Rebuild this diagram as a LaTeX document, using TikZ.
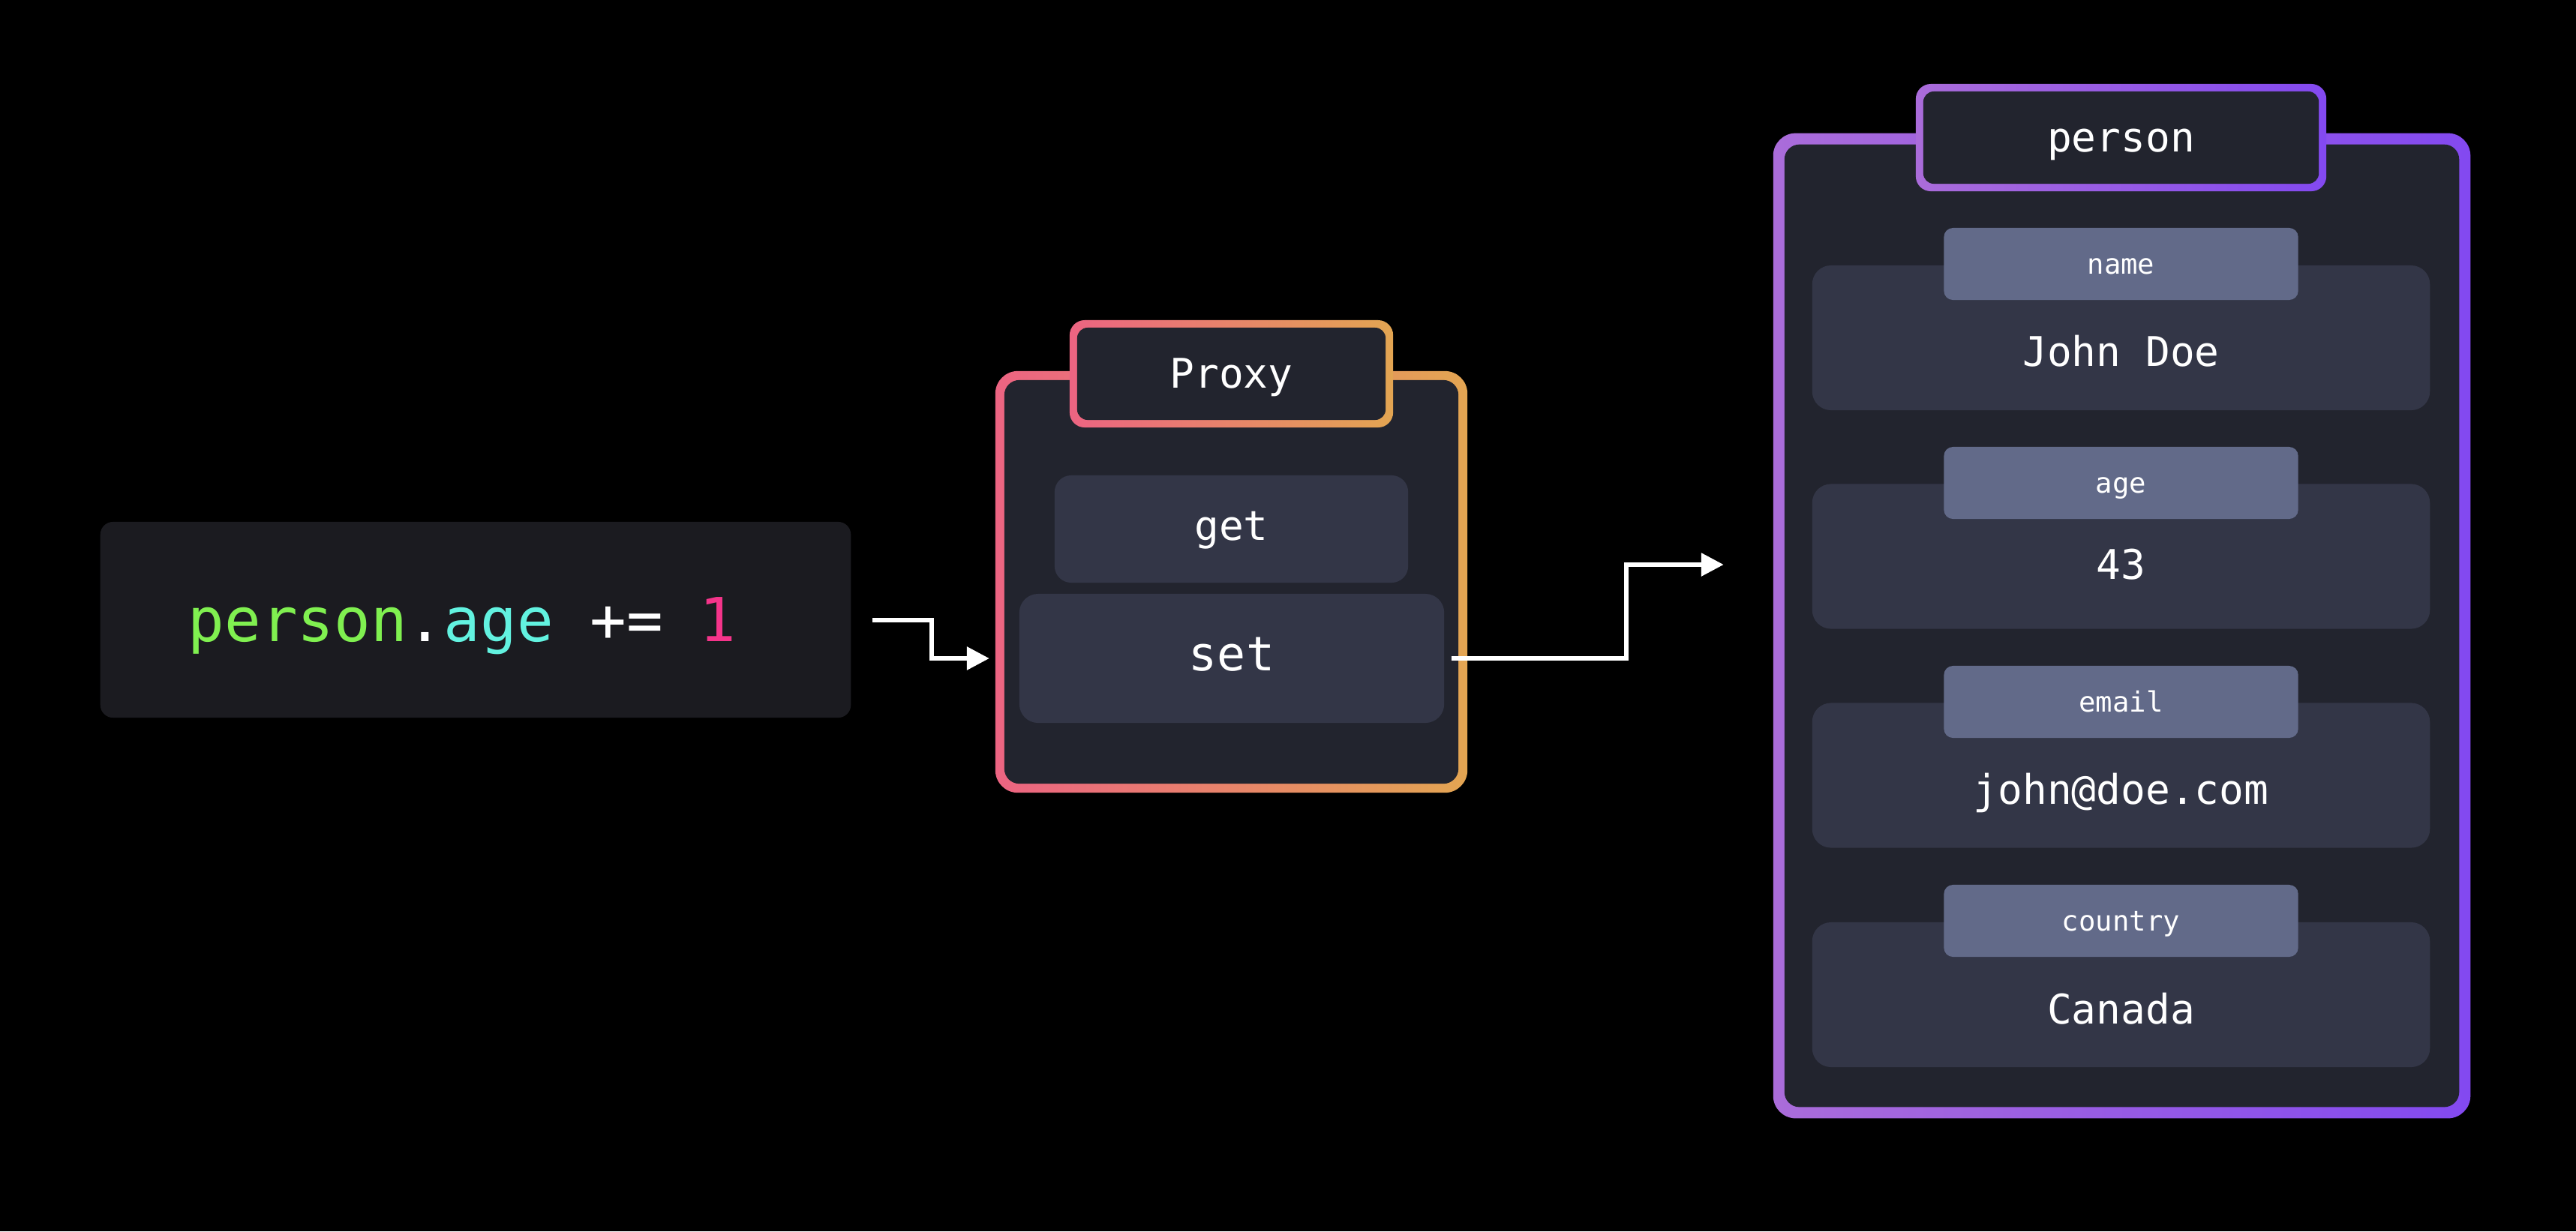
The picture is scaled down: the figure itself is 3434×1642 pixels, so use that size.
\documentclass[tikz,border=0pt]{standalone}
\usepackage{fontspec}
\setmonofont{DejaVu Sans Mono}
\usetikzlibrary{arrows.meta,calc}
\definecolor{bg}{HTML}{000000}
\definecolor{codefill}{HTML}{1B1B20}
\definecolor{panel}{HTML}{22242E}
\definecolor{valfill}{HTML}{333647}
\definecolor{lblfill}{HTML}{626A89}
\definecolor{pxL}{HTML}{EC6482}
\definecolor{pxR}{HTML}{E3A552}
\definecolor{peL}{HTML}{AA6CDA}
\definecolor{peR}{HTML}{8349F0}
\definecolor{cgreen}{HTML}{80F050}
\definecolor{ccyan}{HTML}{62F2E0}
\definecolor{cpink}{HTML}{F5348A}
\begin{document}
\begin{tikzpicture}[x=0.01cm,y=-0.01cm,
  box/.style={shape=rectangle, inner sep=0pt, outer sep=0pt},
  valbox/.style={box, fill=valfill, rounded corners=0.25cm, minimum width=8.23cm, minimum height=1.93cm},
  lblbox/.style={box, fill=lblfill, rounded corners=0.12cm, minimum width=4.72cm, minimum height=0.96cm},
  big/.style={anchor=base, text=white, font=\fontsize{15.5pt}{19pt}\selectfont\ttfamily},
  small/.style={anchor=base, text=white, font=\fontsize{10.6pt}{13pt}\selectfont\ttfamily},
  arr/.style={draw=white, line width=0.06cm, -{Triangle[length=0.3cm,width=0.3cm]}}
]
\useasboundingbox (0,0) rectangle (3434,1642);
\fill[bg] (0,0) rectangle (3434,1642);

% code box
\node[box, fill=codefill, rounded corners=0.17cm, minimum width=10cm, minimum height=2.61cm] (code) at (634,826.5) {};
\node[anchor=base, font=\fontsize{23pt}{28pt}\selectfont\ttfamily] (codetxt) at (616,855)
  {\textcolor{cgreen}{person}\textcolor{white}{.}\textcolor{ccyan}{age} \textcolor{white}{+=} \textcolor{cpink}{1}};

% proxy
\node[box, rounded corners=0.3cm, left color=pxL, right color=pxR, minimum width=6.29cm, minimum height=5.62cm] (proxy) at (1641.5,776) {};
\node[box, fill=panel, rounded corners=0.2cm, minimum width=6.05cm, minimum height=5.38cm] (proxyin) at (1641.5,776) {};
\node[box, rounded corners=0.2cm, left color=pxL, right color=pxR, minimum width=4.31cm, minimum height=1.43cm] (ptitle) at (1641.5,498.5) {};
\node[box, fill=panel, rounded corners=0.14cm, minimum width=4.11cm, minimum height=1.23cm] (ptitlein) at (1641.5,498.5) {};
\node[big] (ptxt) at (1641.5,517) {Proxy};
\node[box, fill=valfill, rounded corners=0.22cm, minimum width=4.71cm, minimum height=1.43cm] (get) at (1641.5,705.5) {};
\node[big] (gettxt) at (1641.5,720) {get};
\node[box, fill=valfill, rounded corners=0.25cm, minimum width=5.66cm, minimum height=1.72cm] (set) at (1642,878) {};
\node[anchor=base, text=white, font=\fontsize{18pt}{22pt}\selectfont\ttfamily] (settxt) at (1642,894) {set};

% person
\node[box, rounded corners=0.3cm, left color=peL, right color=peR, minimum width=9.29cm, minimum height=13.13cm] (person) at (2828.5,834.5) {};
\node[box, fill=panel, rounded corners=0.2cm, minimum width=8.99cm, minimum height=12.83cm] (personin) at (2828.5,834.5) {};
\node[box, rounded corners=0.2cm, left color=peL, right color=peR, minimum width=5.47cm, minimum height=1.43cm] (etitle) at (2827.5,183.5) {};
\node[box, fill=panel, rounded corners=0.14cm, minimum width=5.27cm, minimum height=1.23cm] (etitlein) at (2827.5,183.5) {};
\node[big] (etxt) at (2827.5,202) {person};

\node[valbox] (v1) at (2827.5,450.5) {};
\node[lblbox] (l1) at (2827.5,352) {};
\node[small] (l1t) at (2827.5,365) {name};
\node[big] (v1t) at (2827.5,488) {John Doe};

\node[valbox] (v2) at (2827.5,742) {};
\node[lblbox] (l2) at (2827.5,644) {};
\node[small] (l2t) at (2827.5,657) {age};
\node[big] (v2t) at (2827.5,772) {43};

\node[valbox] (v3) at (2827.5,1034) {};
\node[lblbox] (l3) at (2827.5,936) {};
\node[small] (l3t) at (2827.5,949) {email};
\node[big] (v3t) at (2827.5,1072) {john@doe.com};

\node[valbox] (v4) at (2827.5,1326.5) {};
\node[lblbox] (l4) at (2827.5,1228) {};
\node[small] (l4t) at (2827.5,1241) {country};
\node[big] (v4t) at (2827.5,1365) {Canada};

% connectors
\coordinate (in1) at ($(proxy.west |- set.center)+(-8,0)$);
\draw[arr] ([xshift=0.29cm]code.east) -- ++(0.79cm,0) |- (in1);
\coordinate (in2) at ($(person.west |- v2.center)+(-66,11)$);
\draw[arr] ([xshift=0.1cm]set.east) -- ++(2.33cm,0) |- (in2);
\end{tikzpicture}
\end{document}
